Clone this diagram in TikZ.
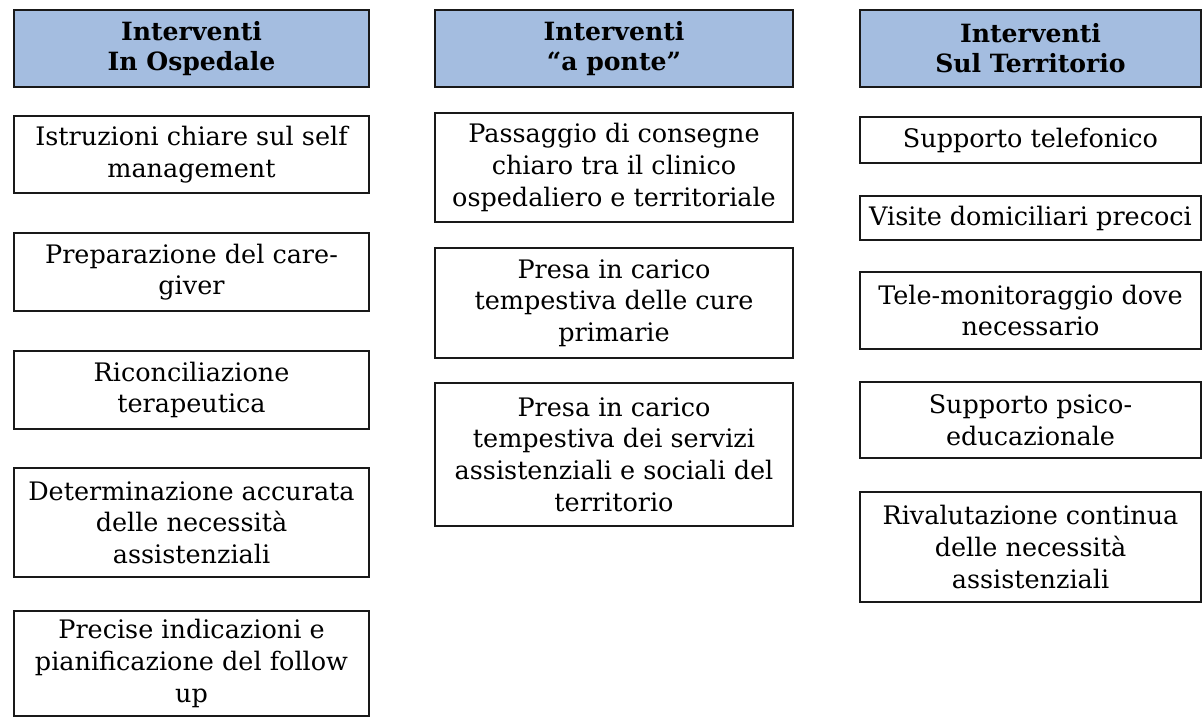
\documentclass[tikz,border=0pt]{standalone}
\usepackage{fontspec}
\setmainfont{DejaVu Serif}
\definecolor{headblue}{RGB}{164,189,224}

\tikzset{
  cell/.style={draw=black!90, line width=1.2pt, fill=white, align=center, inner sep=0pt,
    font=\fontsize{14.5}{18}\selectfont},
  head/.style={cell, fill=headblue, line width=1.4pt, minimum height=1.54cm,
    font=\fontsize{14.3}{17}\selectfont\bfseries},
  colO/.style={minimum width=7.1cm},
  colP/.style={minimum width=7.16cm},
  colT/.style={minimum width=6.82cm}
}

\begin{document}
\begin{tikzpicture}

\useasboundingbox[fill=white] (0,0) rectangle (24.06,-14.34);

\node[head,colO] (H_1) at (3.83,-0.97) {Interventi\\In Ospedale};
\node[head,colP] (H_2) at (12.28,-0.97) {Interventi\\“a ponte”};
\node[head,colT] (H_3) at (20.61,-0.97) {Interventi\\Sul Territorio};

\node[cell,colO,minimum height=1.54cm] (O_1) at (3.83,-3.09) {Istruzioni chiare sul self\\management};
\node[cell,colO,minimum height=1.56cm] (O_2) at (3.83,-5.44) {Preparazione del care-\\giver};
\node[cell,colO,minimum height=1.56cm] (O_3) at (3.83,-7.80) {Riconciliazione\\terapeutica};
\node[cell,colO,minimum height=2.18cm] (O_4) at (3.83,-10.45) {Determinazione accurata\\delle necessità\\assistenziali};
\node[cell,colO,minimum height=2.10cm] (O_5) at (3.83,-13.27) {Precise indicazioni e\\pianificazione del follow\\up};

\node[cell,colP,minimum height=2.18cm] (P_1) at (12.28,-3.35) {Passaggio di consegne\\chiaro tra il clinico\\ospedaliero e territoriale};
\node[cell,colP,minimum height=2.20cm] (P_2) at (12.28,-6.06) {Presa in carico\\tempestiva delle cure\\primarie};
\node[cell,colP,minimum height=2.86cm] (P_3) at (12.28,-9.09) {Presa in carico\\tempestiva dei servizi\\assistenziali e sociali del\\territorio};

\node[cell,colT,minimum height=0.92cm] (T_1) at (20.61,-2.80) {Supporto telefonico};
\node[cell,colT,minimum height=0.88cm] (T_2) at (20.61,-4.36) {Visite domiciliari precoci};
\node[cell,colT,minimum height=1.54cm] (T_3) at (20.61,-6.21) {Tele-monitoraggio dove\\necessario};
\node[cell,colT,minimum height=1.52cm] (T_4) at (20.61,-8.40) {Supporto psico-\\educazionale};
\node[cell,colT,minimum height=2.20cm] (T_5) at (20.61,-10.94) {Rivalutazione continua\\delle necessità\\assistenziali};

\end{tikzpicture}
\end{document}
